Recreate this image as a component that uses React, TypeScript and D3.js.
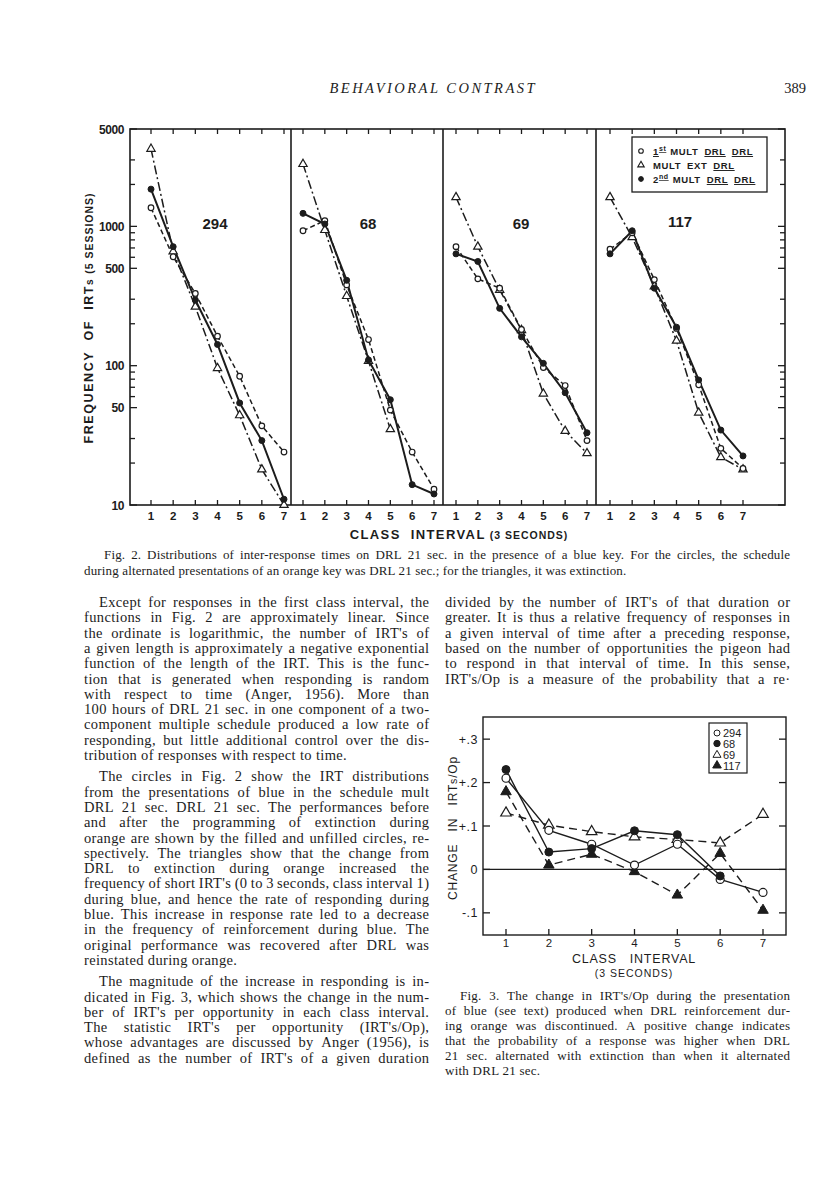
import React from "react";
import * as d3 from "d3";

const SERIF = "'Liberation Serif', 'DejaVu Serif', serif";
const SANS = "'Liberation Sans', 'DejaVu Sans', sans-serif";
const INK = "#1c1c1c";

// class intervals (3 sec bins)
const classes = [1, 2, 3, 4, 5, 6, 7];
const birds = ["294", "68", "69", "117"];

// Fig. 2 - frequency of IRTs (5 sessions)
// first = 1st mult DRL DRL (open circles), ext = mult EXT DRL (triangles), second = 2nd mult DRL DRL (filled)
const first294 = [1360, 605, 330, 163, 84, 37, 24];
const ext294 = [3600, 660, 265, 96, 44, 18, 10];
const second294 = [1850, 715, 296, 142, 54, 29, 11];
const first68 = [930, 1100, 380, 154, 48, 24, 13];
const ext68 = [2800, 940, 316, 108, 35];
const second68 = [1240, 1040, 410, 110, 57, 14, 12];
const first69 = [715, 420, 360, 182, 97, 72, 29];
const ext69 = [1620, 715, 350, 180, 63, 34, 23.5];
const second69 = [635, 560, 258, 161, 104, 64, 33];
const first117 = [685, 900, 415, 185, 73, 25.5, 18.3];
const ext117 = [1620, 835, 370, 151, 46, 22, 18];
const second117 = [635, 930, 360, 189, 79, 34.5, 22.5];

const freqLabels = [5000, 1000, 500, 100, 50, 10];
const freqMinor = [3000, 2000, 900, 800, 700, 600, 300, 200, 90, 80, 70, 60, 30, 20];

// Fig. 3 - change in IRTs/Op
const change294 = [0.21, 0.09, 0.058, 0.01, 0.058, -0.023, -0.053];
const change68 = [0.23, 0.04, 0.048, 0.089, 0.08, -0.015];
const change69 = [0.13, 0.102, 0.087, 0.075, 0.069, 0.061, 0.127];
const change117 = [0.179, 0.01, 0.035, -0.005, -0.059, 0.037, -0.094];
const changeTicks = [0.3, 0.2, 0.1, 0, -0.1];
const changeTickLabels = ["+.3", "+.2", "+.1", "0", "-.1"];

// body text
const leftParas = [
  {
    indent: true,
    open: false,
    lines: [
      "Except for responses in the first class interval, the",
      "functions in Fig. 2 are approximately linear. Since",
      "the ordinate is logarithmic, the number of IRT's of",
      "a given length is approximately a negative exponential",
      "function of the length of the IRT. This is the func-",
      "tion that is generated when responding is random",
      "with respect to time (Anger, 1956). More than",
      "100 hours of DRL 21 sec. in one component of a two-",
      "component multiple schedule produced a low rate of",
      "responding, but little additional control over the dis-",
      "tribution of responses with respect to time.",
    ],
  },
  {
    indent: true,
    open: false,
    lines: [
      "The circles in Fig. 2 show the IRT distributions",
      "from the presentations of blue in the schedule mult",
      "DRL 21 sec. DRL 21 sec. The performances before",
      "and after the programming of extinction during",
      "orange are shown by the filled and unfilled circles, re-",
      "spectively. The triangles show that the change from",
      "DRL to extinction during orange increased the",
      "frequency of short IRT's (0 to 3 seconds, class interval 1)",
      "during blue, and hence the rate of responding during",
      "blue. This increase in response rate led to a decrease",
      "in the frequency of reinforcement during blue. The",
      "original performance was recovered after DRL was",
      "reinstated during orange.",
    ],
  },
  {
    indent: true,
    open: true,
    lines: [
      "The magnitude of the increase in responding is in-",
      "dicated in Fig. 3, which shows the change in the num-",
      "ber of IRT's per opportunity in each class interval.",
      "The statistic IRT's per opportunity (IRT's/Op),",
      "whose advantages are discussed by Anger (1956), is",
      "defined as the number of IRT's of a given duration",
    ],
  },
];

const rightParas = [
  {
    indent: false,
    open: true,
    lines: [
      "divided by the number of IRT's of that duration or",
      "greater. It is thus a relative frequency of responses in",
      "a given interval of time after a preceding response,",
      "based on the number of opportunities the pigeon had",
      "to respond in that interval of time. In this sense,",
      "IRT's/Op is a measure of the probability that a re·",
    ],
  },
];

const fig2Caption = [
  "Fig. 2. Distributions of inter-response times on DRL 21 sec. in the presence of a blue key. For the circles, the schedule",
  "during alternated presentations of an orange key was DRL 21 sec.; for the triangles, it was extinction.",
];

const fig3Caption = [
  "Fig. 3. The change in IRT's/Op during the presentation",
  "of blue (see text) produced when DRL reinforcement dur-",
  "ing orange was discontinued. A positive change indicates",
  "that the probability of a response was higher when DRL",
  "21 sec. alternated with extinction than when it alternated",
  "with DRL 21 sec.",
];

const ctx = document.createElement("canvas").getContext("2d");
const measure = (t, size, ls) => {
  ctx.font = `${size}px ${SERIF}`;
  return ctx.measureText(t).width + ls * t.length;
};

// one line of type, justified word by word; tight lines lose some letter spacing
function Line({ text, x, y, width, justify, size, ls = 0 }) {
  if (!justify) {
    return (
      <text x={x} y={y} fontSize={size} fontFamily={SERIF} fill={INK} letterSpacing={ls}>
        {text}
      </text>
    );
  }
  const words = text.split(" ");
  const n = Math.max(1, words.length - 1);
  const chars = d3.sum(words, (w) => w.length);
  let spacing = ls;
  let widths = words.map((w) => measure(w, size, spacing));
  let gap = (width - d3.sum(widths) + spacing) / n;
  if (gap < 2.5) {
    spacing = ls - ((2.5 - gap) * n) / chars;
    widths = words.map((w) => measure(w, size, spacing));
    gap = (width - d3.sum(widths) + spacing) / n;
  }
  let cx = x;
  return (
    <text y={y} fontSize={size} fontFamily={SERIF} fill={INK} letterSpacing={spacing}>
      {words.map((w, i) => {
        const el = (
          <tspan key={i} x={cx}>
            {w}
          </tspan>
        );
        cx += widths[i] + gap;
        return el;
      })}
    </text>
  );
}

function Column({ paras, x, width, y0, pitch, gap, size, ls, indent }) {
  const out = [];
  let y = y0;
  paras.forEach((p, pi) => {
    if (pi > 0) y += gap;
    p.lines.forEach((t, i) => {
      const ind = p.indent && i === 0 ? indent : 0;
      const last = i === p.lines.length - 1 && !p.open;
      out.push(
        <Line
          key={`${pi}-${i}`}
          text={t}
          x={x + ind}
          y={y}
          width={width - ind}
          justify={!last}
          size={size}
          ls={ls}
        />
      );
      y += pitch;
    });
  });
  return <g>{out}</g>;
}

const triangle = (size) => d3.symbol().type(d3.symbolTriangle).size(size)();

function Fig2() {
  const top = 129;
  const bottom = 505;
  const edges = [130, 291, 443, 596, 785];
  const spans = [[151, 284], [303, 434], [456, 587], [610, 743]];
  const y = d3.scaleLog().domain([10, 5000]).range([bottom, top]);
  const data = [
    [first294, ext294, second294],
    [first68, ext68, second68],
    [first69, ext69, second69],
    [first117, ext117, second117],
  ];
  const labelAt = [[215, 229], [368, 229], [521, 229], [680, 227]];
  const tri = triangle(30);

  return (
    <g stroke={INK} fill="none">
      <rect x={edges[0]} y={top} width={edges[4] - edges[0]} height={bottom - top} strokeWidth={1.6} />
      {edges.slice(1, 4).map((e) => (
        <line key={e} x1={e} x2={e} y1={top} y2={bottom} strokeWidth={1.6} />
      ))}

      {/* y axis ticks, left and right */}
      {[...freqLabels, ...freqMinor].map((v) => {
        const len = freqLabels.includes(v) ? 7 : 5;
        return (
          <g key={v}>
            <line x1={edges[0]} x2={edges[0] + len} y1={y(v)} y2={y(v)} strokeWidth={1.3} />
            <line x1={edges[4]} x2={edges[4] - len} y1={y(v)} y2={y(v)} strokeWidth={1.3} />
          </g>
        );
      })}
      {freqLabels.map((v) => (
        <text
          key={v}
          x={edges[0] - 6}
          y={y(v) + 4.5}
          textAnchor="end"
          fontFamily={SANS}
          fontWeight="bold"
          fontSize={12}
          fill={INK}
          stroke="none"
          letterSpacing={-0.4}
        >
          {v}
        </text>
      ))}

      {data.map((series, pi) => {
        const x = d3.scaleLinear().domain([1, 7]).range(spans[pi]);
        const line = d3
          .line()
          .x((_, i) => x(classes[i]))
          .y((d) => y(d));
        const [first, ext, second] = series;
        return (
          <g key={pi}>
            {classes.map((c) => (
              <g key={c}>
                <line x1={x(c)} x2={x(c)} y1={top} y2={top + 5} strokeWidth={1.3} />
                <line x1={x(c)} x2={x(c)} y1={bottom} y2={bottom - 5} strokeWidth={1.3} />
                <text
                  x={x(c)}
                  y={520}
                  textAnchor="middle"
                  fontFamily={SANS}
                  fontWeight="bold"
                  fontSize={11.5}
                  fill={INK}
                  stroke="none"
                >
                  {c}
                </text>
              </g>
            ))}
            <path d={line(ext)} strokeWidth={1.5} strokeDasharray="9,3,2,3" />
            <path d={line(first)} strokeWidth={1.5} strokeDasharray="5,3" />
            <path d={line(second)} strokeWidth={2} />
            {ext.map((d, i) => (
              <path
                key={`t${i}`}
                d={tri}
                transform={`translate(${x(classes[i])},${y(d)})`}
                fill="white"
                strokeWidth={1.2}
              />
            ))}
            {first.map((d, i) => (
              <circle key={`o${i}`} cx={x(classes[i])} cy={y(d)} r={2.8} fill="white" strokeWidth={1.2} />
            ))}
            {second.map((d, i) => (
              <circle key={`f${i}`} cx={x(classes[i])} cy={y(d)} r={3} fill={INK} />
            ))}
            <text
              x={labelAt[pi][0]}
              y={labelAt[pi][1]}
              textAnchor="middle"
              fontFamily={SANS}
              fontWeight="bold"
              fontSize={15}
              fill={INK}
              stroke="none"
            >
              {birds[pi]}
            </text>
          </g>
        );
      })}

      {/* legend */}
      <rect x={632} y={137} width={135} height={55} fill="white" strokeWidth={1.3} />
      <circle cx={641} cy={151} r={2.3} fill="white" strokeWidth={1.1} />
      <path d={triangle(18)} transform="translate(641,165)" fill="white" strokeWidth={1.1} />
      <circle cx={641} cy={179} r={2.4} fill={INK} />
      <g fontFamily={SANS} fontWeight="bold" fontSize={9.5} fill={INK} stroke="none" letterSpacing={0.6}>
        <text x={653} y={155}>
          <tspan textDecoration="underline">1</tspan>
          <tspan dy={-4} fontSize={7} textDecoration="underline">
            st
          </tspan>
          <tspan dy={4} dx={4}>
            MULT
          </tspan>
          <tspan dx={6} textDecoration="underline">
            DRL
          </tspan>
          <tspan dx={6} textDecoration="underline">
            DRL
          </tspan>
        </text>
        <text x={653} y={169}>
          <tspan>MULT</tspan>
          <tspan dx={6}>EXT</tspan>
          <tspan dx={6} textDecoration="underline">
            DRL
          </tspan>
        </text>
        <text x={653} y={183}>
          <tspan>2</tspan>
          <tspan dy={-4} fontSize={7} textDecoration="underline">
            nd
          </tspan>
          <tspan dy={4} dx={4}>
            MULT
          </tspan>
          <tspan dx={6} textDecoration="underline">
            DRL
          </tspan>
          <tspan dx={6} textDecoration="underline">
            DRL
          </tspan>
        </text>
      </g>

      {/* axis titles */}
      <text
        transform="translate(93,318) rotate(-90)"
        textAnchor="middle"
        fontFamily={SANS}
        fontWeight="bold"
        fill={INK}
        stroke="none"
        fontSize={12.5}
        letterSpacing={1.6}
      >
        FREQUENCY&#160;&#160;OF&#160;&#160;IRT<tspan fontSize={10}>s</tspan>
        <tspan fontSize={10.5} letterSpacing={1}>
          {" "}
          (5 SESSIONS)
        </tspan>
      </text>
      <text x={459} y={539} textAnchor="middle" fontFamily={SANS} fontWeight="bold" fill={INK} stroke="none">
        <tspan fontSize={13} letterSpacing={1.4}>
          CLASS&#160;&#160;INTERVAL
        </tspan>
        <tspan fontSize={10.5} letterSpacing={1}>
          {" "}
          (3 SECONDS)
        </tspan>
      </text>
    </g>
  );
}

function Fig3() {
  const left = 483;
  const right = 786;
  const top = 717;
  const bottom = 935;
  const x = d3.scaleLinear().domain([1, 7]).range([506, 763]);
  const y = d3.scaleLinear().domain([-0.151, 0.351]).range([bottom, top]);
  const line = d3
    .line()
    .x((_, i) => x(classes[i]))
    .y((d) => y(d));
  const tri = triangle(48);
  const font = { fontFamily: SANS, fill: INK, stroke: "none" };

  return (
    <g stroke={INK} fill="none">
      <rect x={left} y={top} width={right - left} height={bottom - top} strokeWidth={1.4} />
      <line x1={left} x2={right} y1={y(0)} y2={y(0)} strokeWidth={1.3} />
      {changeTicks.map((v, i) => (
        <g key={v}>
          <line x1={left} x2={left + 7} y1={y(v)} y2={y(v)} strokeWidth={1.3} />
          <line x1={right} x2={right - 7} y1={y(v)} y2={y(v)} strokeWidth={1.3} />
          <text x={left - 5} y={y(v) + 4.5} textAnchor="end" fontSize={12.5} {...font} letterSpacing={0.5}>
            {changeTickLabels[i]}
          </text>
        </g>
      ))}
      {classes.map((c) => (
        <g key={c}>
          <line x1={x(c)} x2={x(c)} y1={bottom} y2={bottom - 6} strokeWidth={1.3} />
          <text x={x(c)} y={947} textAnchor="middle" fontSize={11.5} {...font}>
            {c}
          </text>
        </g>
      ))}

      <path d={line(change69)} strokeWidth={1.4} strokeDasharray="8,5" />
      <path d={line(change117)} strokeWidth={1.4} strokeDasharray="8,5" />
      <path d={line(change294)} strokeWidth={1.4} />
      <path d={line(change68)} strokeWidth={1.4} />
      {change69.map((d, i) => (
        <path key={`a${i}`} d={tri} transform={`translate(${x(classes[i])},${y(d)})`} fill="white" strokeWidth={1.2} />
      ))}
      {change117.map((d, i) => (
        <path key={`b${i}`} d={tri} transform={`translate(${x(classes[i])},${y(d)})`} fill={INK} strokeWidth={1} />
      ))}
      {change294.map((d, i) => (
        <circle key={`c${i}`} cx={x(classes[i])} cy={y(d)} r={4} fill="white" strokeWidth={1.2} />
      ))}
      {change68.map((d, i) => (
        <circle key={`d${i}`} cx={x(classes[i])} cy={y(d)} r={4} fill={INK} />
      ))}

      {/* legend */}
      <rect x={709} y={723} width={38} height={50} fill="white" strokeWidth={1.2} />
      <circle cx={717} cy={733} r={3} fill="white" strokeWidth={1} />
      <circle cx={717} cy={743.5} r={3.2} fill={INK} />
      <path d={triangle(28)} transform="translate(717,755)" fill="white" strokeWidth={1} />
      <path d={triangle(32)} transform="translate(717,765.5)" fill={INK} />
      <g fontSize={11} {...font}>
        <text x={723} y={737}>294</text>
        <text x={723} y={747.5}>68</text>
        <text x={723} y={758.5}>69</text>
        <text x={723} y={769.5}>117</text>
      </g>

      <text
        transform="translate(457,828) rotate(-90)"
        textAnchor="middle"
        fontSize={12}
        letterSpacing={0.8}
        {...font}
      >
        CHANGE&#160;&#160;&#160;IN&#160;&#160;&#160;IRT<tspan fontSize={10.5}>s</tspan>/Op
      </text>
      <text x={634} y={963} textAnchor="middle" fontSize={12.5} letterSpacing={0.8} {...font}>
        CLASS&#160;&#160;&#160;INTERVAL
      </text>
      <text x={634} y={977} textAnchor="middle" fontSize={10.5} letterSpacing={1} {...font}>
        (3 SECONDS)
      </text>
    </g>
  );
}

export default function App() {
  return (
    <div style={{ position: "absolute", left: 0, top: 0 }}>
      <svg width={816} height={1188} style={{ display: "block", background: "white" }}>
        <text
          x={432}
          y={93}
          textAnchor="middle"
          fontFamily={SERIF}
          fontStyle="italic"
          fontSize={14.5}
          fill={INK}
          textLength={205}
          lengthAdjust="spacing"
        >
          BEHAVIORAL CONTRAST
        </text>
        <text x={806} y={93} textAnchor="end" fontFamily={SERIF} fontSize={14.5} fill={INK}>
          389
        </text>

        <Fig2 />

        <Line text={fig2Caption[0]} x={104} y={559} width={686} justify size={13} ls={0.15} />
        <Line text={fig2Caption[1]} x={84} y={575} width={706} justify={false} size={13} ls={0.15} />

        <Column paras={leftParas} x={84} width={345} y0={607} pitch={15.3} gap={6} size={14.5} ls={0.35} indent={15} />
        <Column paras={rightParas} x={445} width={345} y0={607} pitch={15.3} gap={6} size={14.5} ls={0.35} indent={15} />

        <Fig3 />

        <g>
          {fig3Caption.map((t, i) => (
            <Line
              key={i}
              text={t}
              x={i === 0 ? 460 : 445}
              y={1000 + i * 15}
              width={i === 0 ? 330 : 345}
              justify={i < fig3Caption.length - 1}
              size={13}
              ls={0.25}
            />
          ))}
        </g>
      </svg>
    </div>
  );
}
